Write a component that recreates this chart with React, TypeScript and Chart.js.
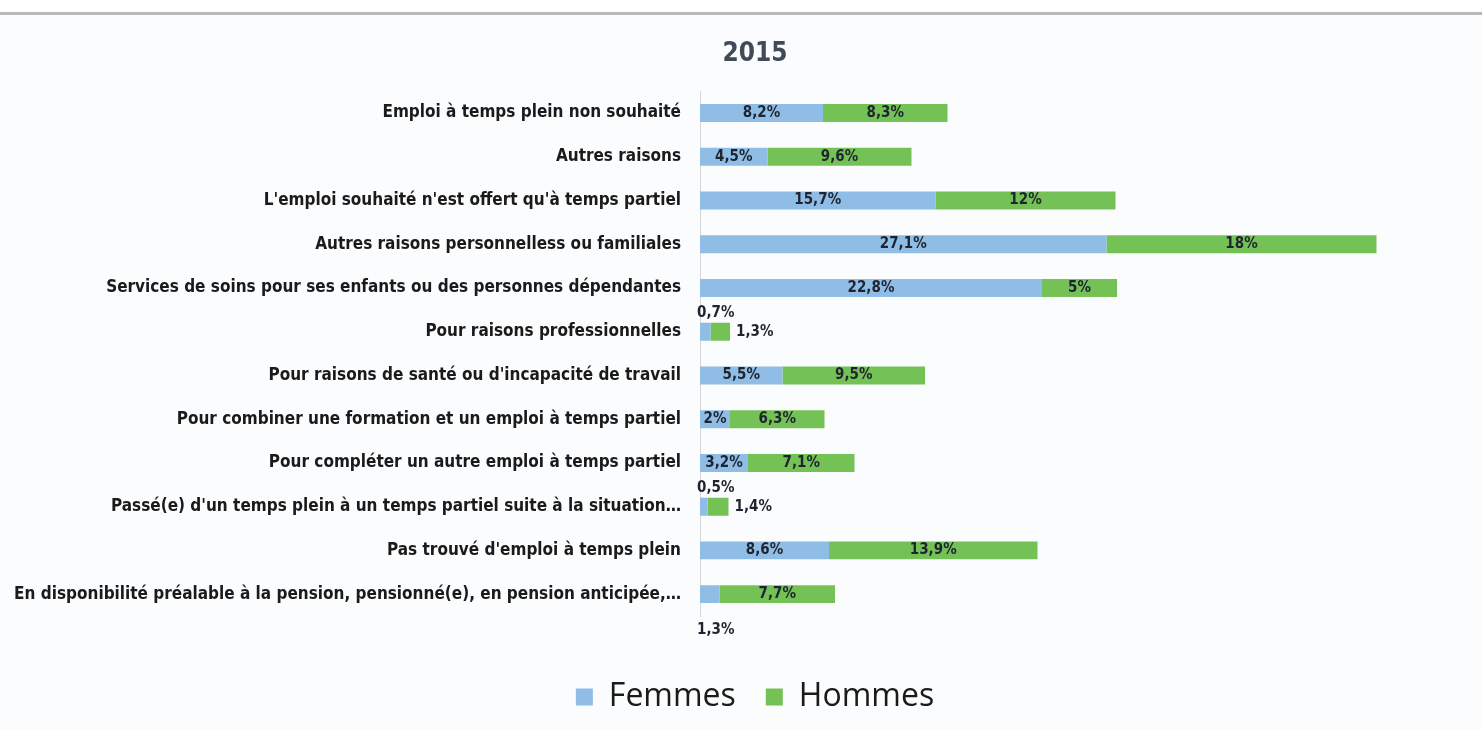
import React, { useEffect, useRef } from "react";
import { Chart, registerables } from "chart.js";

Chart.register(...registerables);

const titleText = "2015";
const seriesNames = ["Femmes", "Hommes"];
const categories = [
  "Emploi à temps plein non souhaité",
  "Autres raisons",
  "L'emploi souhaité n'est offert qu'à temps partiel",
  "Autres raisons personnelless ou familiales",
  "Services de soins pour ses enfants ou des personnes dépendantes",
  "Pour raisons professionnelles",
  "Pour raisons de santé ou d'incapacité de travail",
  "Pour combiner une formation et un emploi à temps partiel",
  "Pour compléter un autre emploi à temps partiel",
  "Passé(e) d'un temps plein à un temps partiel suite à la situation…",
  "Pas trouvé d'emploi à temps plein",
  "En disponibilité préalable à la pension, pensionné(e), en pension anticipée,…",
];
const femmes = [8.2, 4.5, 15.7, 27.1, 22.8, 0.7, 5.5, 2, 3.2, 0.5, 8.6, 1.3];
const hommes = [8.3, 9.6, 12, 18, 5, 1.3, 9.5, 6.3, 7.1, 1.4, 13.9, 7.7];

const FONT = "'DejaVu Sans Condensed', 'DejaVu Sans', sans-serif";
const BLUE = "#8fbde6";
const GREEN = "#74c256";

function fmt(v: number): string {
  return String(v).replace(".", ",") + "%";
}

const segLabels = {
  id: "segLabels",
  afterDatasetsDraw(chart: any) {
    const ctx = chart.ctx;
    ctx.save();
    ctx.font = `bold 15px ${FONT}`;
    ctx.fillStyle = "#1f2530";
    ctx.textBaseline = "middle";
    const n = chart.data.labels.length;
    chart.data.datasets.forEach((ds: any, di: number) => {
      const meta = chart.getDatasetMeta(di);
      meta.data.forEach((el: any, i: number) => {
        const v = ds.data[i];
        const txt = fmt(v);
        const w = ctx.measureText(txt).width;
        const start = Math.min(el.x, el.base);
        const end = Math.max(el.x, el.base);
        const seg = end - start;
        if (w + 4 <= seg) {
          ctx.textAlign = "center";
          ctx.fillText(txt, (start + end) / 2, el.y);
        } else if (di === 0) {
          ctx.textAlign = "left";
          const dy = i === n - 1 ? 36 : -19;
          ctx.fillText(txt, start - 3, el.y + dy);
        } else {
          ctx.textAlign = "left";
          ctx.fillText(txt, end + 6, el.y);
        }
      });
    });
    ctx.restore();
  },
};

export default function App() {
  const ref = useRef<HTMLCanvasElement>(null);
  useEffect(() => {
    if (!ref.current) return;
    const chart = new Chart(ref.current, {
      type: "bar",
      data: {
        labels: categories,
        datasets: [
          {
            label: seriesNames[0],
            data: femmes,
            backgroundColor: BLUE,
            borderWidth: 0,
            categoryPercentage: 1,
            barPercentage: 0.41,
          },
          {
            label: seriesNames[1],
            data: hommes,
            backgroundColor: GREEN,
            borderWidth: 0,
            categoryPercentage: 1,
            barPercentage: 0.41,
          },
        ],
      },
      options: {
        indexAxis: "y",
        animation: false,
        responsive: false,
        devicePixelRatio: 1,
        layout: { padding: { left: 0, right: 0, top: 0, bottom: 22 } },
        scales: {
          x: {
            stacked: true,
            min: 0,
            max: 54,
            display: true,
            ticks: { display: false },
            grid: { display: false, drawTicks: false },
            border: { display: false },
            afterFit: (s: any) => {
              s.height = 35;
            },
          },
          y: {
            stacked: true,
            grid: { display: false, drawTicks: false },
            border: { display: true, color: "#d4d6d9", width: 1 },
            ticks: {
              padding: 19,
              color: "#1a1a1a",
              font: { family: FONT, size: 17, weight: "bold" },
            },
            afterFit: (s: any) => {
              s.width = 700;
            },
          },
        },
        plugins: {
          title: {
            display: true,
            text: titleText,
            color: "#404a59",
            font: { family: FONT, size: 26, weight: "bold" },
            padding: { top: 24, bottom: 21 },
          },
          legend: {
            display: true,
            position: "bottom",
            labels: {
              boxWidth: 17,
              boxHeight: 17,
              padding: 30,
              color: "#1a1a1a",
              font: { family: "'Open Sans', sans-serif", size: 32 },
            },
          },
          tooltip: { enabled: false },
        },
      },
      plugins: [segLabels],
    } as any);
    return () => chart.destroy();
  }, []);

  return (
    <div
      style={{
        position: "fixed",
        left: 0,
        top: 0,
        width: 1482,
        height: 730,
        overflow: "hidden",
        background: "#ffffff",
      }}
    >
      <div
        style={{
          position: "absolute",
          left: 0,
          top: 12,
          width: 1482,
          height: 3,
          background: "#b8b8bb",
        }}
      />
      <div
        style={{
          position: "absolute",
          left: 0,
          top: 15,
          width: 1482,
          height: 730,
          background: "#fbfcfd",
          overflow: "hidden",
        }}
      >
        <canvas
          ref={ref}
          width={1510}
          height={730}
          style={{ display: "block", position: "absolute", left: 0, top: 0 }}
        />
      </div>
    </div>
  );
}
